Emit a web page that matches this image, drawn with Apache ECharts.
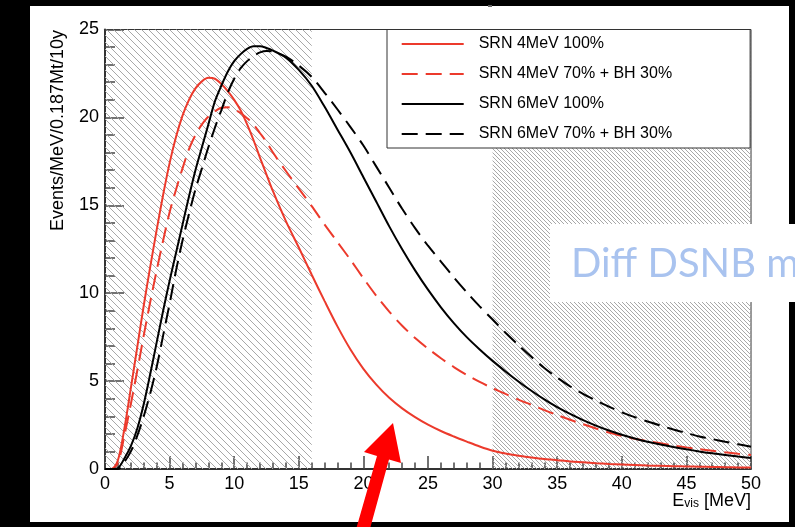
<!DOCTYPE html>
<html>
<head>
<meta charset="utf-8">
<script src="https://cdn.jsdelivr.net/npm/echarts@6/dist/echarts.min.js"></script>
<style>
  html, body { margin: 0; padding: 0; background: #000; }
  #chart { width: 795px; height: 527px; }
</style>
</head>
<body>
<div id="chart"></div>
<script>
// E_vis grid [MeV]
const energy = [0, 0.5, 1, 1.5, 2, 2.5, 3, 3.5, 4, 4.5, 5, 5.5, 6, 6.5, 7, 7.5, 8, 8.5, 9, 9.5, 10, 10.5, 11, 11.5, 12, 12.5,
  13, 14, 15, 16, 17, 18, 19, 20, 21, 22, 23, 24, 25, 26, 27, 28, 29, 30,
  31, 32, 33, 34, 35, 36, 37, 38, 39, 40, 41, 42, 43, 44, 45, 46, 47, 48, 49, 50];

// SRN 4MeV 100%
const srn4 = [0, 0, 0.5, 2.3, 4.6, 6.95, 9.3, 11.5, 13.6, 15.6, 17.4, 18.9, 20.1, 21.0, 21.65, 22.05, 22.25, 22.2, 21.9, 21.5, 21.0, 20.4, 19.6, 18.7, 17.7, 16.75,
  15.8, 14.1, 12.6, 11.05, 9.55, 8.1, 6.8, 5.7, 4.8, 4.05, 3.45, 2.95, 2.52, 2.16, 1.85, 1.56, 1.28, 1.04,
  0.88, 0.76, 0.66, 0.57, 0.5, 0.43, 0.38, 0.33, 0.29, 0.26, 0.23, 0.2, 0.18, 0.16, 0.145, 0.13, 0.115, 0.1, 0.09, 0.08];
// SRN 4MeV 70% + BH 30%
const srn4bh = [0, 0, 0.35, 1.9, 3.7, 5.6, 7.6, 9.5, 11.3, 13.0, 14.6, 15.9, 17.1, 18.2, 19.0, 19.6, 20.05, 20.35, 20.55, 20.58, 20.45, 20.25, 19.95, 19.6, 19.1, 18.6,
  18.0, 16.95, 15.95, 14.95, 13.9, 12.9, 11.9, 10.85, 9.85, 8.95, 8.15, 7.45, 6.85, 6.3, 5.8, 5.35, 4.95, 4.6,
  4.27, 3.95, 3.65, 3.35, 3.07, 2.8, 2.55, 2.3, 2.08, 1.88, 1.72, 1.58, 1.46, 1.34, 1.23, 1.13, 1.04, 0.95, 0.87, 0.8];
// SRN 6MeV 100%
const srn6 = [0, 0, 0.05, 0.6, 1.3, 2.3, 3.7, 5.4, 7.2, 9.0, 10.7, 12.3, 13.9, 15.5, 17.0, 18.3, 19.6, 20.9, 21.8, 22.6, 23.2, 23.6, 23.9, 24.05, 24.05, 23.95,
  23.8, 23.4, 22.7, 21.8, 20.6, 19.3, 18.0, 16.6, 15.2, 13.8, 12.5, 11.3, 10.2, 9.2, 8.3, 7.5, 6.8, 6.15,
  5.55, 4.98, 4.45, 3.96, 3.52, 3.13, 2.78, 2.47, 2.19, 1.95, 1.74, 1.55, 1.39, 1.25, 1.12, 1.0, 0.89, 0.8, 0.71, 0.63];
// SRN 6MeV 70% + BH 30%
const srn6bh = [0, 0, 0, 0.4, 1.0, 1.9, 3.0, 4.3, 5.8, 7.6, 9.4, 11.3, 13.0, 14.5, 15.9, 17.1, 18.3, 19.4, 20.4, 21.4, 22.2, 22.8, 23.2, 23.5, 23.7, 23.78,
  23.75, 23.45, 22.95, 22.3, 21.4, 20.45, 19.45, 18.4, 17.2, 16.0, 14.8, 13.7, 12.7, 11.8, 10.9, 10.05, 9.25, 8.5,
  7.75, 7.05, 6.38, 5.75, 5.2, 4.7, 4.27, 3.9, 3.55, 3.22, 2.95, 2.7, 2.47, 2.25, 2.05, 1.85, 1.7, 1.55, 1.41, 1.27];

// excluded energy windows (hatched)
const hatchLeft = [0, 16];
const hatchRight = [30, 50];

const seriesNames = ['SRN 4MeV 100%', 'SRN 4MeV 70% + BH 30%', 'SRN 6MeV 100%', 'SRN 6MeV 70% + BH 30%'];

const pairs = (vals) => energy.map((e, i) => [e, vals[i]]);

// small canvas tile with "\" lines
function hatch(step, color) {
  const c = document.createElement('canvas');
  c.width = step;
  c.height = step;
  const g = c.getContext('2d');
  g.strokeStyle = color;
  g.lineWidth = 1;
  g.beginPath();
  for (const k of [-step, 0, step]) {
    g.moveTo(0, k);
    g.lineTo(step, step + k);
  }
  g.stroke();
  return c;
}

const font = 'Liberation Sans';
const red = '#ec3a2c';

const myChart = echarts.init(document.getElementById('chart'));

const lineSeries = (name, vals, color, dashed) => ({
  name: name,
  type: 'line',
  data: pairs(vals),
  symbol: 'none',
  smooth: 0.3,
  lineStyle: { color: color, width: 2, type: dashed ? [16, 8] : 'solid' },
  itemStyle: { color: color },
  z: 3
});

const option = {
  backgroundColor: '#000',
  animation: false,
  grid: {
    left: 105, top: 29.5, right: 44, bottom: 58,
    show: true, borderColor: '#333', borderWidth: 1, backgroundColor: 'transparent'
  },
  legend: {
    data: seriesNames,
    orient: 'vertical',
    left: 387, top: 29.5,
    itemWidth: 62, itemHeight: 14, itemGap: 14,
    padding: [6.5, 78, 6, 13.7],
    borderColor: '#333', borderWidth: 1, borderRadius: 0,
    backgroundColor: '#fff',
    itemStyle: { opacity: 0 },
    lineStyle: { opacity: 1 },
    textStyle: { fontFamily: font, fontSize: 16, color: '#000', padding: [0, 0, 0, 10] },
    z: 5
  },
  xAxis: {
    type: 'value', min: 0, max: 50, interval: 5,
    axisLine: { lineStyle: { color: '#333', width: 2 } },
    axisTick: { inside: true, length: 13, lineStyle: { color: '#444', width: 1.5 } },
    minorTick: { show: true, splitNumber: 5, length: 6.5, lineStyle: { color: '#444', width: 1.5 } },
    axisLabel: { fontFamily: font, fontSize: 18, color: '#000', margin: 6 },
    splitLine: { show: false }
  },
  yAxis: {
    type: 'value', min: 0, max: 25, interval: 5,
    axisLine: { show: true, lineStyle: { color: '#333', width: 2 } },
    axisTick: { show: true, inside: true, length: 19, lineStyle: { color: '#444', width: 1.5 } },
    minorTick: { show: true, splitNumber: 5, length: 10, lineStyle: { color: '#444', width: 1.5 } },
    axisLabel: { fontFamily: font, fontSize: 18, color: '#000', margin: 6 },
    splitLine: { show: false }
  },
  series: [
    Object.assign(lineSeries(seriesNames[0], srn4, red, false), {
      markArea: {
        silent: true,
        z: 1,
        data: [
          [{ xAxis: hatchLeft[0], yAxis: 0, itemStyle: { color: { image: hatch(7, '#a8a8a8'), repeat: 'repeat' } } },
           { xAxis: hatchLeft[1], yAxis: 25 }],
          [{ xAxis: hatchRight[0], yAxis: 0, itemStyle: { color: { image: hatch(4, '#a8a8a8'), repeat: 'repeat' } } },
           { xAxis: hatchRight[1], yAxis: 25 }]
        ]
      }
    }),
    lineSeries(seriesNames[1], srn4bh, red, true),
    lineSeries(seriesNames[2], srn6, '#000', false),
    lineSeries(seriesNames[3], srn6bh, '#000', true)
  ],
  graphic: {
    elements: [
      // white canvas of the original plot
      { type: 'rect', z: -100, silent: true, shape: { x: 30, y: 6, width: 759, height: 516 }, style: { fill: '#fff' } },
      // bit of cut-off title at the top edge
      { type: 'rect', z: 10, silent: true, shape: { x: 488, y: 5, width: 4, height: 2 }, style: { fill: '#666' } },
      // axis titles
      {
        type: 'text', x: 58, y: 30, rotation: Math.PI / 2, z: 10,
        style: { text: 'Events/MeV/0.187Mt/10y', font: '18px "Liberation Sans"', fill: '#000', align: 'right', verticalAlign: 'middle' }
      },
      {
        type: 'text', x: 751, y: 510, z: 10,
        style: {
          text: '{e|E}{s|vis}{e| [MeV]}', align: 'right', verticalAlign: 'bottom', fill: '#000',
          rich: {
            e: { fontFamily: font, fontSize: 18, lineHeight: 20, verticalAlign: 'bottom' },
            s: { fontFamily: font, fontSize: 12, lineHeight: 8, verticalAlign: 'bottom' }
          }
        }
      },
      // pasted slide box on top
      { type: 'rect', z: 100, silent: true, shape: { x: 550, y: 224, width: 245, height: 78 }, style: { fill: '#fff' } },
      {
        type: 'text', x: 571, y: 264, z: 101,
        style: { text: 'Diff DSNB m', font: '40px Lato', fill: '#a9c3ef', verticalAlign: 'middle' }
      },
      // red arrow
      {
        type: 'polygon', z: 101, silent: true,
        shape: { points: [[393, 423], [401, 463], [389, 459.5], [368, 536], [355, 533], [377, 456], [364, 452]] },
        style: { fill: '#ff0000' }
      }
    ]
  }
};

myChart.setOption(option);
</script>
</body>
</html>
